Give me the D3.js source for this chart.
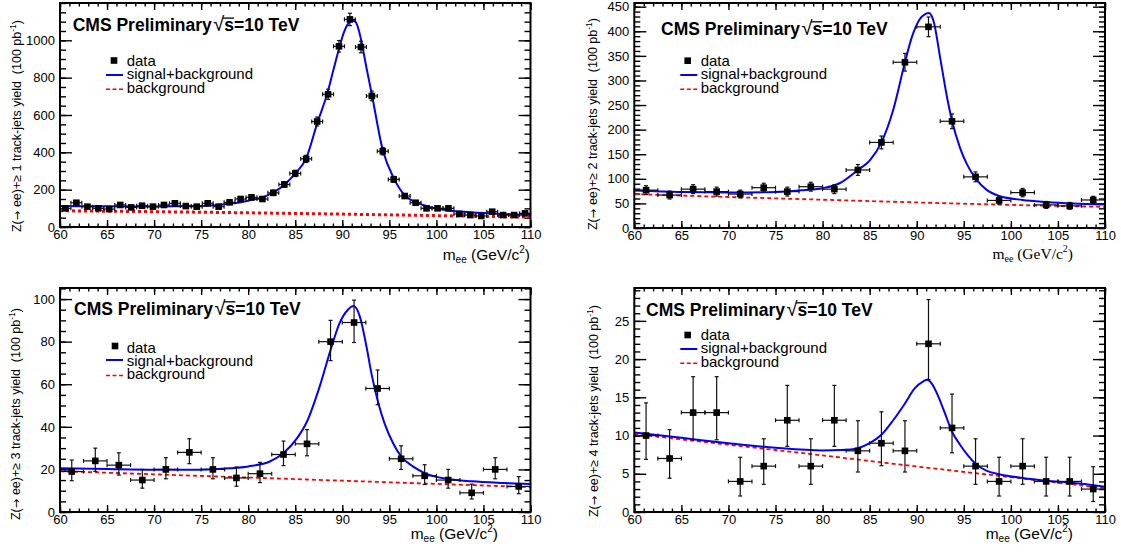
<!DOCTYPE html>
<html><head><meta charset="utf-8">
<script src="https://cdn.jsdelivr.net/npm/d3@7"></script>
<style>
body{margin:0;background:#fff}
svg{display:block}
</style>
</head><body>
<svg id="c" width="1121" height="559"></svg>
<script>
// ---------- tick labels ----------
const xMajorTicks = [60,65,70,75,80,85,90,95,100,105,110];
const xMinorTicks = [60,61,62,63,64,65,66,67,68,69,70,71,72,73,74,75,76,77,78,79,80,81,82,83,84,85,86,87,88,89,90,91,92,93,94,95,96,97,98,99,100,101,102,103,104,105,106,107,108,109,110];
const yTicks1 = [0,200,400,600,800,1000];
const yTicks2 = [0,50,100,150,200,250,300,350,400,450];
const yTicks3 = [0,20,40,60,80,100];
const yTicks4 = [0,5,10,15,20,25];

// ---------- bin centres ----------
const bins43 = [60.58,61.74,62.91,64.07,65.23,66.40,67.56,68.72,69.88,71.05,72.21,73.37,74.53,75.70,76.86,78.02,79.19,80.35,81.51,82.67,83.84,85.00,86.16,87.33,88.49,89.65,90.81,91.98,93.14,94.30,95.47,96.63,97.79,98.95,100.12,101.28,102.44,103.60,104.77,105.93,107.09,108.26,109.42];
const bins20 = [61.25,63.75,66.25,68.75,71.25,73.75,76.25,78.75,81.25,83.75,86.25,88.75,91.25,93.75,96.25,98.75,101.25,103.75,106.25,108.75];

// ---------- panel 1 : >=1 track-jets ----------
const data1 = [100,130,109,100,96,118,105,114,109,118,127,112,109,127,109,132,150,159,150,183,228,287,365,565,711,968,1112,964,702,406,255,166,130,100,100,100,70,64,59,82,64,64,73];
const err1  = [10,11,10,10,10,11,10,11,10,11,11,11,10,11,10,11,12,13,12,14,15,17,19,24,27,31,33,31,26,20,16,13,11,10,10,10,8,8,8,9,8,8,9];
const fit1 = [[60,112],[65,111],[70,110],[75,112],[78,124],[80,141],[82,168],[83.84,226],[85,287],[86.16,368],[87.33,555],[88.49,730],[89.1,850],[89.65,955],[90.15,1040],[90.6,1088],[91.1,1106],[91.45,1096],[91.8,1045],[92.6,845],[93.14,710],[94.3,412],[95.47,262],[96.63,170],[97.79,132],[98.95,112],[100.12,98],[103.6,79],[107,70],[110,66]];
const bkg1 = [[60,87],[70,82],[80,76],[90,69],[100,61],[110,53]];

// ---------- panel 2 : >=2 track-jets ----------
const data2 = [77,67,79,74,69,82,74,84,79,118,174,337,409,217,104,56,72,47,45,57];
const err2  = [9,8,9,9,8,9,9,9,9,11,13,18,20,15,10,7.5,8.5,7,7,7.5];
const fit2 = [[60,76],[65,73],[70,72],[75,73],[78,77],[80,81],[81.8,91],[83.75,118],[85,137],[86.25,174],[87.5,240],[88.75,337],[89.5,389],[90.3,424],[90.9,435],[91.3,437],[91.8,420],[92.5,345],[93.2,268],[93.75,218],[94.6,163],[95.3,131],[96.25,101],[97.4,78],[98.75,65],[101.25,57],[103.75,53],[106.6,50],[110,48]];
const bkg2 = [[60,69],[70,63],[80,57.5],[90,52],[100,47],[110,43]];

// ---------- panel 3 : >=3 track-jets ----------
const data3 = [19,24,22,15,20,28,20,16,18,27,32,80,89,58,25,17,15,9,20,12];
const err3Lo = [4.3,4.9,4.65,3.8,4.4,5.3,4.4,3.9,4.2,5.2,5.6,8.9,9.4,7.6,5.0,4.1,3.8,2.9,4.4,3.4];
const err3Hi = [5.4,6.0,5.8,5.0,5.5,6.4,5.5,5.1,5.3,6.3,6.7,10.0,10.5,8.7,6.1,5.2,5.0,4.1,5.5,4.6];
const fit3 = [[60,20.6],[65,20.2],[70,19.9],[75,19.9],[78,20.5],[80,21.4],[82.3,23.7],[83.75,27.7],[85.2,34.7],[86.25,42.5],[87.6,59],[88.75,76],[89.7,88.6],[90.6,95],[91.2,96.7],[91.85,92],[92.6,77],[93.1,65],[93.75,52.5],[94.5,41.5],[95.4,32.3],[96.25,26.1],[97.5,21.4],[98.75,18.3],[101.25,15.5],[103.75,14.4],[107.1,13.6],[110,13.1]];
const bkg3 = [[60,19.2],[70,17.7],[80,16.2],[90,14.7],[100,13.2],[110,11.7]];

// ---------- panel 4 : >=4 track-jets ----------
const data4 = [10,7,13,13,4,6,12,6,12,8,9,8,22,11,6,4,6,4,4,3];
const err4Lo = [3.11,2.58,3.55,3.55,1.91,2.38,3.41,2.38,3.41,2.77,2.94,2.77,4.65,3.26,2.38,1.91,2.38,1.91,1.91,1.63];
const err4Hi = [4.27,3.77,4.70,4.70,3.16,3.58,4.56,3.58,4.56,3.94,4.11,3.94,5.79,4.42,3.58,3.16,3.58,3.16,3.16,2.92];
const fit4 = [[60,10.4],[65,9.7],[70,9.0],[75,8.4],[80,8.05],[82,8.1],[83.75,8.35],[85,9.0],[86.25,10.1],[87.5,12.0],[88.75,14.2],[89.8,16.2],[90.7,17.1],[91.1,17.3],[91.6,16.8],[92.3,15.1],[93,12.9],[93.75,10.5],[94.6,8.8],[95.5,7.3],[96.25,6.3],[97.4,5.4],[98.75,4.95],[101.25,4.45],[103.75,4.1],[106.25,3.85],[110,3.3]];
const bkg4 = [[60,10.2],[70,8.8],[80,7.4],[90,5.95],[100,4.55],[110,3.1]];

const legendLabels = ["data","signal+background","background"];
const yTitleN = ["1","2","3","4"];

// ---------- layout ----------
const SANS = "'Liberation Sans', Arial, Helvetica, sans-serif";
const SERIF = "'Liberation Serif', 'Times New Roman', serif";
const panels = [
  {L:60,R:530.5,T:3,B:227,ymax:1200,ticks:yTicks1,minorStep:50,x:bins43,hw:0.58,v:data1,lo:err1,hi:err1,fit:fit1,bkg:bkg1,
   bkgW:3,bkgDash:"3,3",n:0,
   title:{dx:12.7,dy:28.3}, leg:{mx:54,my:57.5,tx:66.7,ty:[62.5,76,89.5],ly:[72,86.3]},
   ytx:-39.5, yty:17, xl:{x:530,y:259.5,serif:false}},
  {L:634.3,R:1105,T:3,B:228,ymax:457.5,ticks:yTicks2,minorStep:10,x:bins20,hw:1.25,v:data2,lo:err2,hi:err2,fit:fit2,bkg:bkg2,
   bkgW:1.8,bkgDash:"4,3",n:1,
   title:{dx:26.7,dy:32},  leg:{mx:53.4,my:57.7,tx:66.4,ty:[63,76,89.7],ly:[72,86.3]},
   ytx:-37, yty:15, xl:{x:1073,y:259,serif:true}},
  {L:60,R:530.5,T:288,B:512,ymax:105.2,ticks:yTicks3,minorStep:5,x:bins20,hw:1.25,v:data3,lo:err3Lo,hi:err3Hi,fit:fit3,bkg:bkg3,
   bkgW:1.8,bkgDash:"4,3",n:2,
   title:{dx:14,dy:27},  leg:{mx:55,my:58,tx:66.7,ty:[64.7,77.5,91],ly:[72,87.5]},
   ytx:-40, yty:20, xl:{x:498,y:539,serif:false}},
  {L:634.3,R:1105,T:288,B:512,ymax:29.3,ticks:yTicks4,minorStep:1,x:bins20,hw:1.25,v:data4,lo:err4Lo,hi:err4Hi,fit:fit4,bkg:bkg4,
   bkgW:1.8,bkgDash:"4,3",n:3,
   title:{dx:11.7,dy:28},  leg:{mx:53.4,my:47,tx:66.4,ty:[52,65.3,79.3],ly:[61,75.3]},
   ytx:-36, yty:17, xl:{x:1073,y:539,serif:false}}
];

const svg = d3.select("#c");
const BLUE = "#0000ff", RED = "#ff0000";

function styleAxis(sel){
  sel.select(".domain").remove();
  sel.selectAll("line").attr("stroke","#000").attr("stroke-width",1.4);
  sel.selectAll("text").attr("fill","#000").attr("font-size",13).style("font-family",SANS);
  sel.attr("font-family",null).attr("font-size",null);
}

panels.forEach((p,pi)=>{
  const g = svg.append("g");
  const x = d3.scaleLinear().domain([60,110]).range([p.L,p.R]);
  const y = d3.scaleLinear().domain([0,p.ymax]).range([p.B,p.T]);
  const minor = d3.range(0, p.ymax+1e-9, p.minorStep);

  const clipId = "clip"+pi;
  g.append("clipPath").attr("id",clipId).append("rect")
    .attr("x",p.L).attr("y",p.T).attr("width",p.R-p.L).attr("height",p.B-p.T);

  // axes (ticks inside frame)
  g.append("g").attr("transform",`translate(${p.L},0)`)
    .call(d3.axisLeft(y).tickValues(p.ticks).tickSize(-12).tickSizeOuter(0).tickPadding(5).tickFormat(d3.format("d"))).call(styleAxis);
  g.append("g").attr("transform",`translate(${p.L},0)`)
    .call(d3.axisLeft(y).tickValues(minor).tickSize(-6).tickSizeOuter(0).tickFormat("")).call(styleAxis);
  g.append("g").attr("transform",`translate(${p.R},0)`)
    .call(d3.axisRight(y).tickValues(p.ticks).tickSize(-12).tickSizeOuter(0).tickFormat("")).call(styleAxis);
  g.append("g").attr("transform",`translate(${p.R},0)`)
    .call(d3.axisRight(y).tickValues(minor).tickSize(-6).tickSizeOuter(0).tickFormat("")).call(styleAxis);
  g.append("g").attr("transform",`translate(0,${p.B})`)
    .call(d3.axisBottom(x).tickValues(xMajorTicks).tickSize(-7).tickSizeOuter(0).tickPadding(3).tickFormat(d3.format("d"))).call(styleAxis);
  g.append("g").attr("transform",`translate(0,${p.B})`)
    .call(d3.axisBottom(x).tickValues(xMinorTicks).tickSize(-3.5).tickSizeOuter(0).tickFormat("")).call(styleAxis);
  g.append("g").attr("transform",`translate(0,${p.T})`)
    .call(d3.axisTop(x).tickValues(xMajorTicks).tickSize(-7).tickSizeOuter(0).tickFormat("")).call(styleAxis);
  g.append("g").attr("transform",`translate(0,${p.T})`)
    .call(d3.axisTop(x).tickValues(xMinorTicks).tickSize(-3.5).tickSizeOuter(0).tickFormat("")).call(styleAxis);

  // background fit (dashed) and signal+background fit
  const line = d3.line().x(d=>x(d[0])).y(d=>y(d[1])).curve(d3.curveMonotoneX);
  g.append("path").datum(p.bkg).attr("clip-path",`url(#${clipId})`)
    .attr("d",line).attr("fill","none")
    .attr("stroke",RED).attr("stroke-width",p.bkgW).attr("stroke-dasharray",p.bkgDash);
  g.append("path").datum(p.fit).attr("clip-path",`url(#${clipId})`)
    .attr("d",line).attr("fill","none")
    .attr("stroke",BLUE).attr("stroke-width",2);

  // data points with error bars
  const pts = p.v.map((v,i)=>({cx:p.x[i],v:v,lo:v-p.lo[i],hi:v+p.hi[i]}));
  const eg = g.append("g").attr("stroke","#111").attr("stroke-width",1.2);
  pts.forEach(d=>{
    const X=x(d.cx), Y=y(d.v), x0=x(d.cx-p.hw), x1=x(d.cx+p.hw), y0=y(d.lo), y1=y(d.hi);
    eg.append("line").attr("x1",x0).attr("x2",x1).attr("y1",Y).attr("y2",Y);
    eg.append("line").attr("x1",X).attr("x2",X).attr("y1",y0).attr("y2",y1);
    eg.append("line").attr("x1",x0).attr("x2",x0).attr("y1",Y-2).attr("y2",Y+2);
    eg.append("line").attr("x1",x1).attr("x2",x1).attr("y1",Y-2).attr("y2",Y+2);
    eg.append("line").attr("x1",X-2).attr("x2",X+2).attr("y1",y0).attr("y2",y0);
    eg.append("line").attr("x1",X-2).attr("x2",X+2).attr("y1",y1).attr("y2",y1);
  });
  g.append("g").selectAll("rect").data(pts).join("rect")
    .attr("x",d=>x(d.cx)-3.3).attr("y",d=>y(d.v)-3.3).attr("width",6.6).attr("height",6.6).attr("fill","#000");

  // frame
  g.append("rect").attr("x",p.L).attr("y",p.T).attr("width",p.R-p.L).attr("height",p.B-p.T)
    .attr("fill","none").attr("stroke","#000").attr("stroke-width",2);

  // title
  const tx = p.L+p.title.dx, ty = p.T+p.title.dy;
  const t = g.append("text").attr("x",tx).attr("y",ty).attr("font-weight","bold").attr("font-size",17.5)
    .attr("fill","#000").style("font-family",SANS).style("white-space","pre");
  t.append("tspan").text("CMS Preliminary");
  t.append("tspan").attr("font-weight","normal").attr("font-size",20).attr("dx",1.5).text("\u221A");
  t.append("tspan").text("s=10 TeV");
  const sExt = t.node().getExtentOfChar(16);
  const rExt = t.node().getExtentOfChar(15);
  g.append("line").attr("x1",rExt.x+rExt.width-1.5).attr("x2",sExt.x+sExt.width)
    .attr("y1",ty-13.2).attr("y2",ty-13.2).attr("stroke","#000").attr("stroke-width",1.3);

  // legend
  const lg = p.leg;
  g.append("rect").attr("x",p.L+lg.mx-3.3).attr("y",p.T+lg.my-3.3).attr("width",6.6).attr("height",6.6).attr("fill","#000");
  g.append("line").attr("x1",p.L+46).attr("x2",p.L+63).attr("y1",p.T+lg.ly[0]).attr("y2",p.T+lg.ly[0])
    .attr("stroke",BLUE).attr("stroke-width",2);
  g.append("line").attr("x1",p.L+46).attr("x2",p.L+63).attr("y1",p.T+lg.ly[1]).attr("y2",p.T+lg.ly[1])
    .attr("stroke",RED).attr("stroke-width",1.6).attr("stroke-dasharray","4,2.5");
  legendLabels.forEach((s,i)=>{
    g.append("text").attr("x",p.L+lg.tx).attr("y",p.T+lg.ty[i]).attr("font-size",15)
      .style("font-family",SANS).attr("fill","#000").text(s);
  });

  // y-axis title
  const yt = g.append("text").attr("transform",`translate(${p.L+p.ytx},${p.T+p.yty}) rotate(-90)`)
    .attr("text-anchor","end").attr("font-size",12.5).attr("fill","#000")
    .style("font-family",SANS).style("white-space","pre");
  yt.append("tspan").text("Z(");
  yt.append("tspan").style("font-family","'DejaVu Sans', sans-serif").attr("font-size",11.5).text("\u2192");
  yt.append("tspan").text(` ee)+\u2265 ${yTitleN[p.n]} track-jets yield  (100 pb`);
  yt.append("tspan").attr("font-size",8.5).attr("dy",-5).text("-1");
  yt.append("tspan").attr("dy",5).text(")");

  // x-axis title
  const xf = p.xl.serif ? SERIF : SANS;
  const xt = g.append("text").attr("x",p.xl.x).attr("y",p.xl.y).attr("text-anchor","end")
    .attr("font-size",15.5).attr("fill","#000").style("white-space","pre").style("font-family",xf);
  xt.append("tspan").text("m");
  xt.append("tspan").attr("font-size",10).attr("dy",3).text("ee");
  xt.append("tspan").attr("dy",-3).text(" (GeV/c");
  xt.append("tspan").attr("font-size",10).attr("dy",-7).text("2");
  xt.append("tspan").attr("dy",7).text(")");
});
</script>
</body></html>
